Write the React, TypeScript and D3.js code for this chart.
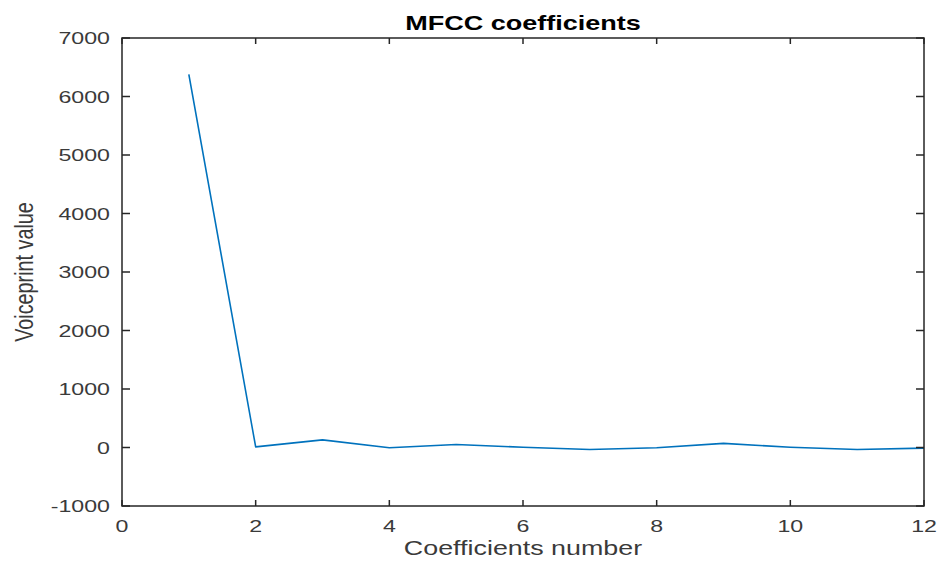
import React from "react";
import * as d3 from "d3";

const coefficients = [1, 2, 3, 4, 5, 6, 7, 8, 9, 10, 11, 12];
const voiceprintValues = [6380, 10, 130, -5, 50, 5, -35, -5, 70, 5, -35, -10];
const xTicks = [0, 2, 4, 6, 8, 10, 12];
const yTicks = [-1000, 0, 1000, 2000, 3000, 4000, 5000, 6000, 7000];
const titleText = "MFCC coefficients";
const xLabelText = "Coefficients number";
const yLabelText = "Voiceprint value";

const W = 944;
const H = 565;
const left = 122;
const right = 924;
const top = 38;
const bottom = 506;
const SX = 1.34; // horizontal stretch of the original picture

const axisColor = "#262626";
const textColor = "#3a3a3a";
const lineColor = "#0072BD";
const font = "'Liberation Sans', Arial, Helvetica, sans-serif";

export default function App() {
  const x = d3.scaleLinear().domain([0, 12]).range([left, right]);
  const y = d3.scaleLinear().domain([-1000, 7000]).range([bottom, top]);
  const line = d3
    .line<number>()
    .x((_, i) => x(coefficients[i]))
    .y((d) => y(d));
  const path = line(voiceprintValues) || "";
  const xTickLen = 6;
  const yTickLen = 8;

  return (
    <svg
      width={W}
      height={H}
      style={{ position: "absolute", left: 0, top: 0, background: "#fff" }}
    >
      <rect x={0} y={0} width={W} height={H} fill="#fff" />
      <path d={path} fill="none" stroke={lineColor} strokeWidth={1.6} strokeLinejoin="round" />
      <rect
        x={left}
        y={top}
        width={right - left}
        height={bottom - top}
        fill="none"
        stroke={axisColor}
        strokeWidth={1.5}
      />
      {xTicks.map((t) => (
        <g key={"xt" + t}>
          <line x1={x(t)} x2={x(t)} y1={bottom} y2={bottom - xTickLen} stroke={axisColor} strokeWidth={1.5} />
          <line x1={x(t)} x2={x(t)} y1={top} y2={top + xTickLen} stroke={axisColor} strokeWidth={1.5} />
          <text
            transform={`translate(${x(t)},${bottom + 26}) scale(${SX},1)`}
            textAnchor="middle"
            fontFamily={font}
            fontSize={17.3}
            fill={textColor}
          >
            {t}
          </text>
        </g>
      ))}
      {yTicks.map((t) => (
        <g key={"yt" + t}>
          <line x1={left} x2={left + yTickLen} y1={y(t)} y2={y(t)} stroke={axisColor} strokeWidth={1.5} />
          <line x1={right} x2={right - yTickLen} y1={y(t)} y2={y(t)} stroke={axisColor} strokeWidth={1.5} />
          <text
            transform={`translate(${left - 12},${y(t) + 6}) scale(${SX},1)`}
            textAnchor="end"
            fontFamily={font}
            fontSize={17.3}
            fill={textColor}
          >
            {t}
          </text>
        </g>
      ))}
      <text
        transform={`translate(${(left + right) / 2},${30}) scale(${1.3},1)`}
        textAnchor="middle"
        fontFamily={font}
        fontWeight="bold"
        fontSize={20.8}
        fill="#000"
      >
        {titleText}
      </text>
      <text
        transform={`translate(${(left + right) / 2},${555}) scale(${1.33},1)`}
        textAnchor="middle"
        fontFamily={font}
        fontSize={20.2}
        fill={textColor}
      >
        {xLabelText}
      </text>
      <text
        transform={`translate(${33},${(top + bottom) / 2}) rotate(-90) scale(1,${1.33})`}
        textAnchor="middle"
        fontFamily={font}
        fontSize={19.8}
        fill={textColor}
      >
        {yLabelText}
      </text>
    </svg>
  );
}
